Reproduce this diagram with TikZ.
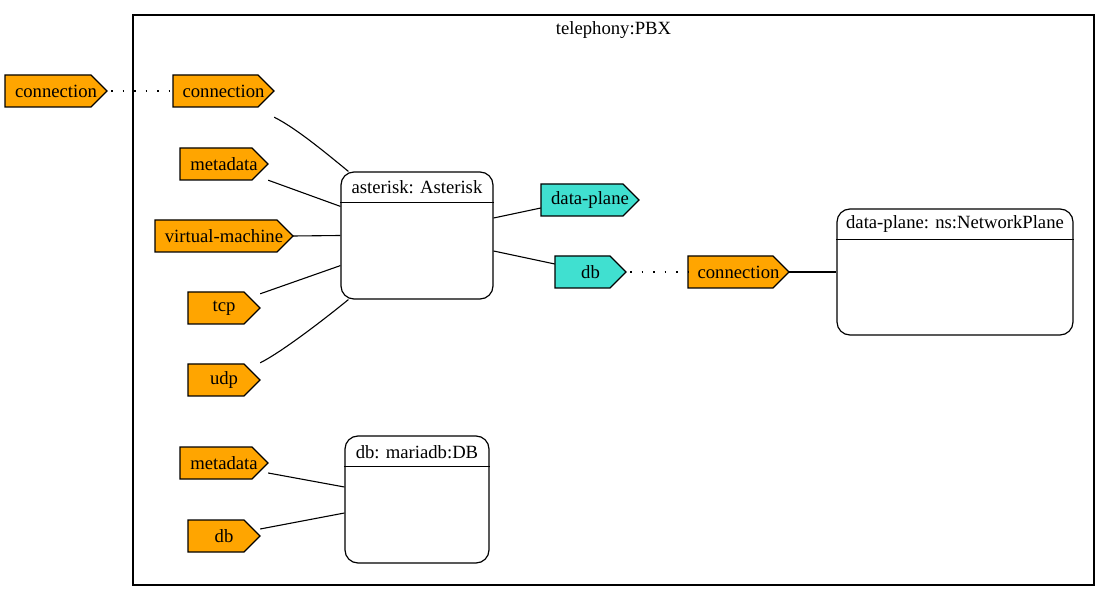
\documentclass[tikz,border=0pt]{standalone}
\usepackage{fontspec}
\setmainfont{Liberation Serif}
\usetikzlibrary{calc}
\definecolor{tagorange}{HTML}{FFA500}
\definecolor{tagturq}{HTML}{40E0D0}
\tikzset{
  lbl/.style={font=\fontsize{18.67}{22}\selectfont, inner sep=0pt},
  tagbox/.style={lbl, minimum height=32pt},
  tagline/.style={draw=black, line width=1.1pt, line join=miter},
  rbox/.style={draw, line width=1.2pt, rounded corners=13pt, inner sep=0pt},
  edge/.style={line width=1.1pt},
  dotedge/.style={line width=1.3pt, dash pattern=on 1.5pt off 10pt, dash phase=-4pt},
}
% name, left, right, y, colour, text
\newcommand\tagnode[6]{%
  \draw[tagline, fill=#5] (#2,{#4-16}) -- ({#3-16},{#4-16}) -- (#3,#4) -- ({#3-16},{#4+16}) -- (#2,{#4+16}) -- cycle;
  \node[tagbox, minimum width={(#3-#2)*1pt}] (#1) at ({(#2+#3)/2},#4) {#6};
}
\begin{document}
\begin{tikzpicture}[x=1pt,y=-1pt]
\useasboundingbox (0,0) rectangle (1111,601);
% cluster
\node[draw, line width=1.2pt, minimum width=961pt, minimum height=570pt, inner sep=0pt] (pbx) at (613.5,300) {};
\node[lbl] (pbxl) at (613.5,30) {telephony:PBX};
% tags
\tagnode{c0}{5}{107}{91}{tagorange}{connection}
\tagnode{c1}{173}{274}{91}{tagorange}{connection}
\tagnode{mda}{180}{268}{164}{tagorange}{metadata}
\tagnode{vm}{155}{293}{236}{tagorange}{virtual-machine}
\tagnode{tcp}{188}{260}{308}{tagorange}{tcp}
\tagnode{udp}{188}{260}{380}{tagorange}{udp}
\tagnode{dp}{541}{639}{200}{tagturq}{data-plane}
\tagnode{dbt}{555}{626}{272}{tagturq}{db}
\tagnode{c2}{688}{789}{272}{tagorange}{connection}
\tagnode{mdb}{180}{268}{463}{tagorange}{metadata}
\tagnode{dbb}{188}{260}{536}{tagorange}{db}
% boxes
\node[rbox, minimum width=152pt, minimum height=127pt] (ast) at (417,235.5) {};
\node[lbl] (asth) at (417,187) {asterisk: Asterisk};
\draw[edge] ($(ast.north west)+(0,31)$) -- ($(ast.north east)+(0,31)$);
\node[rbox, minimum width=236pt, minimum height=126pt] (np) at (955,272) {};
\node[lbl] (nph) at (955,224) {data-plane: ns:NetworkPlane};
\draw[edge] ($(np.north west)+(0,31)$) -- ($(np.north east)+(0,31)$);
\node[rbox, minimum width=144pt, minimum height=127pt] (mdbx) at (417,499.5) {};
\node[lbl] (mdbh) at (417,452) {db: mariadb:DB};
\draw[edge] ($(mdbx.north west)+(0,31)$) -- ($(mdbx.north east)+(0,31)$);
% edges
\draw[dotedge] (c0.east) -- (c1.west);
\draw[edge] ($(c1.south east)+(0,10)$) .. controls +(22,11) and +(-22,-18) .. ($(ast.north west)+(8,0)$);
\draw[edge] (mda.south east) -- ($(ast.north west)+(0,35)$);
\draw[edge] (vm.east) -- (ast.west);
\draw[edge] ($(tcp.north east)+(0,2)$) -- ($(ast.south west)+(0,-34)$);
\draw[edge] ($(udp.north east)+(0,-1)$) .. controls +(22,-11) and +(-22,18) .. ($(ast.south west)+(8,0)$);
\draw[edge] ($(ast.east)+(0,-17.5)$) -- ($(dp.west)+(0,8)$);
\draw[edge] ($(ast.east)+(0,15.5)$) -- ($(dbt.west)+(0,-8)$);
\draw[dotedge] (dbt.east) -- (c2.west);
\draw[edge] (c2.east) -- (np.west);
\draw[edge] ($(mdb.east)+(0,10)$) -- ($(mdbx.west)+(0,-12.5)$);
\draw[edge] ($(dbb.east)+(0,-7)$) -- ($(mdbx.west)+(0,13.5)$);
\end{tikzpicture}
\end{document}
